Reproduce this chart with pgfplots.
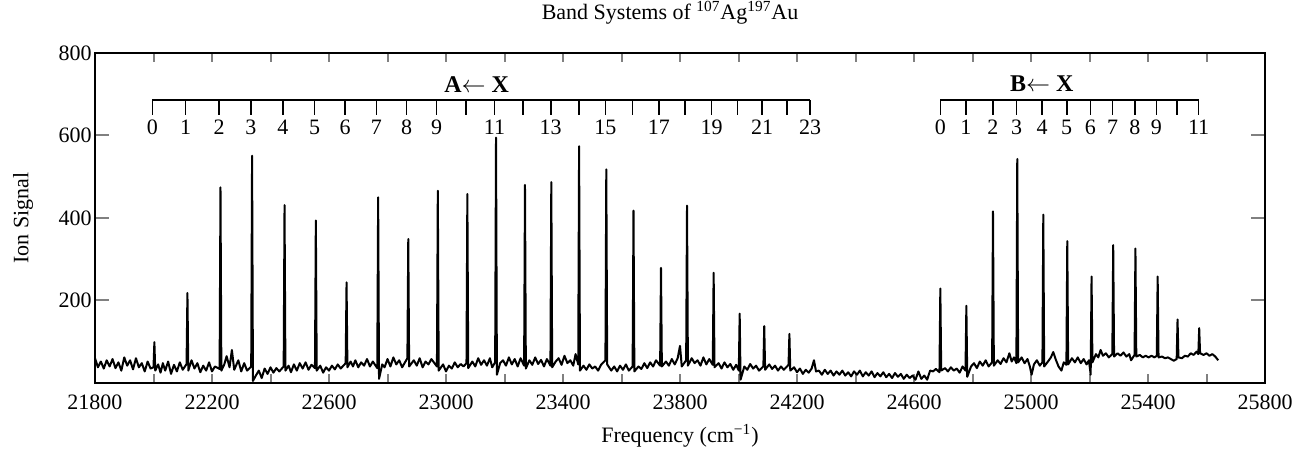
\documentclass[border=0pt]{standalone}
\usepackage{pgfplots}
\pgfplotsset{compat=1.18}
\usepackage{fontspec}
\setmainfont{Liberation Serif}
\newcommand\combfont{\fontsize{11}{13}\selectfont}

\begin{document}
\begin{tikzpicture}
\begin{axis}[
    scale only axis,
    width=585pt, height=165pt,
    xmin=21800, xmax=25800,
    ymin=0, ymax=800,
    clip=false,
    axis line style={line width=1pt},
    tick align=inside,
    scaled x ticks=false,
    xtick={21800,22200,...,25800},
    minor xtick={22000,22400,...,25600},
    ytick={200,400,600,800},
    xtick style={line width=1pt, /pgfplots/major tick length=4.5pt, /pgfplots/minor tick length=4.5pt},
    ytick style={line width=1pt, /pgfplots/major tick length=7pt},
    tick label style={font=\fontsize{11}{13}\selectfont, /pgf/number format/assume math mode=true},
    xticklabel style={/pgf/number format/fixed, /pgf/number format/1000 sep={}, anchor=center, yshift=-9.5pt},
    yticklabel style={anchor=east, inner xsep=1.5pt},
    label style={font=\fontsize{11}{13}\selectfont},
    xlabel={Frequency (cm\textsuperscript{−1})},
    xlabel style={at={(axis description cs:0.5,-0.16)}, anchor=center},
    ylabel={Ion Signal},
    ylabel style={at={(axis description cs:-0.0615,0.5)}, anchor=center},
]
\coordinate (ll) at (rel axis cs:0,0);
\coordinate (ur) at (rel axis cs:1,1);

% spectrum: noisy baseline with the vibronic band heads
\addplot[black, line width=1pt, line join=round] coordinates {
(21800,60)(21810,38)(21820,52)(21830,35)(21840,55)(21850,40)(21860,58)(21870,36)(21880,50)(21890,30)
(21900,62)(21910,42)(21920,55)(21930,33)(21940,60)(21950,38)(21960,48)(21970,28)(21980,52)(21990,35)
(22000,38)(22003,99)(22006,30)(22016,45)(22024,25)(22032,48)(22040,30)(22050,52)(22060,22)(22070,44)
(22080,28)(22090,50)(22100,32)(22113,46)(22116,218)(22119,30)(22130,55)(22140,35)(22150,48)(22160,26)
(22170,42)(22180,30)(22190,50)(22200,28)(22210,40)(22226,34)(22229,474)(22232,30)(22242,45)(22250,65)
(22260,38)(22268,80)(22276,32)(22290,55)(22300,28)(22310,48)(22320,30)(22334,40)(22337,551)(22340,5)
(22350,18)(22360,30)(22370,12)(22380,35)(22390,22)(22400,38)(22410,25)(22420,36)(22430,28)(22445,40)
(22448,431)(22451,30)(22462,42)(22470,26)(22480,45)(22490,30)(22500,48)(22510,35)(22520,50)(22530,32)
(22540,44)(22552,36)(22555,394)(22558,30)(22570,42)(22580,25)(22590,38)(22600,30)(22610,42)(22620,33)
(22630,45)(22640,35)(22657,48)(22660,244)(22663,38)(22674,52)(22682,40)(22690,55)(22700,38)(22710,50)
(22720,42)(22730,58)(22740,40)(22750,52)(22765,36)(22768,450)(22771,10)(22782,45)(22790,38)(22800,58)
(22810,40)(22820,62)(22830,45)(22840,55)(22850,38)(22868,60)(22871,349)(22874,40)(22890,55)(22900,42)
(22910,60)(22920,38)(22930,52)(22940,45)(22950,58)(22969,40)(22972,466)(22975,30)(22990,45)(23000,28)
(23010,42)(23020,35)(23030,50)(23040,38)(23050,46)(23060,40)(23070,48)(23073,458)(23076,36)(23090,52)
(23100,40)(23110,60)(23120,44)(23130,55)(23140,42)(23150,60)(23158,38)(23168,50)(23171,595)(23174,20)
(23185,48)(23195,55)(23205,42)(23215,62)(23225,45)(23235,58)(23245,40)(23255,60)(23267,42)(23270,480)
(23273,35)(23285,55)(23295,44)(23305,62)(23315,46)(23325,56)(23335,40)(23345,58)(23357,42)(23360,487)
(23363,38)(23375,52)(23385,60)(23395,44)(23405,66)(23415,48)(23425,55)(23435,42)(23443,70)(23452,45)
(23455,574)(23458,30)(23470,42)(23480,32)(23490,45)(23500,35)(23510,40)(23520,30)(23530,44)(23545,55)
(23548,518)(23551,45)(23565,30)(23575,40)(23585,28)(23595,42)(23605,32)(23615,45)(23625,30)(23638,40)
(23641,418)(23644,28)(23658,40)(23668,34)(23678,48)(23688,36)(23698,50)(23708,40)(23718,55)(23732,42)
(23735,279)(23738,40)(23752,52)(23762,42)(23772,58)(23782,45)(23792,60)(23800,90)(23806,40)(23821,55)
(23824,430)(23827,42)(23840,60)(23850,48)(23860,55)(23870,42)(23880,62)(23890,45)(23900,58)(23912,44)
(23915,267)(23918,38)(23932,48)(23942,35)(23952,50)(23962,38)(23972,46)(23982,32)(23992,44)(24001,30)
(24004,168)(24007,8)(24020,40)(24030,32)(24040,46)(24050,35)(24060,42)(24070,30)(24085,40)(24088,138)
(24091,32)(24105,45)(24115,34)(24125,42)(24135,30)(24145,40)(24155,32)(24171,44)(24174,119)(24177,30)
(24190,38)(24200,26)(24210,35)(24220,22)(24230,32)(24240,25)(24250,35)(24258,55)(24265,28)(24275,30)
(24285,20)(24295,32)(24305,22)(24315,30)(24325,18)(24335,28)(24345,20)(24355,30)(24365,18)(24375,26)
(24385,16)(24395,28)(24405,20)(24415,30)(24425,16)(24435,26)(24445,18)(24455,28)(24465,14)(24475,24)
(24485,16)(24495,26)(24505,14)(24515,22)(24525,12)(24535,24)(24545,15)(24555,22)(24565,10)(24575,20)
(24585,12)(24595,18)(24605,8)(24615,28)(24625,10)(24635,18)(24645,8)(24655,30)(24665,28)(24675,34)
(24687,26)(24690,229)(24693,30)(24706,36)(24716,28)(24726,38)(24736,30)(24746,35)(24756,25)(24766,40)
(24776,30)(24779,187)(24782,15)(24795,40)(24805,48)(24815,36)(24825,52)(24835,42)(24845,55)(24855,40)
(24867,50)(24870,416)(24873,42)(24886,55)(24896,46)(24906,60)(24916,50)(24926,72)(24934,52)(24942,62)
(24950,48)(24953,543)(24956,50)(24968,62)(24978,48)(24988,58)(24996,40)(25002,20)(25010,45)(25020,55)
(25030,42)(25039,50)(25042,408)(25045,40)(25058,52)(25068,62)(25076,75)(25084,58)(25094,40)(25104,30)
(25112,50)(25121,44)(25124,344)(25127,45)(25140,60)(25150,50)(25160,62)(25170,48)(25180,58)(25190,45)
(25198,55)(25204,20)(25207,258)(25210,50)(25222,70)(25230,62)(25238,80)(25246,66)(25256,72)(25266,62)
(25278,70)(25281,334)(25284,64)(25296,72)(25306,66)(25316,74)(25326,64)(25336,70)(25342,55)(25354,68)
(25357,326)(25360,64)(25372,68)(25382,62)(25392,66)(25402,62)(25412,66)(25422,62)(25430,66)(25433,258)
(25436,62)(25448,64)(25458,60)(25468,62)(25478,58)(25488,54)(25498,58)(25501,154)(25504,62)(25516,60)
(25526,66)(25536,64)(25546,72)(25556,68)(25566,76)(25572,70)(25575,133)(25578,72)(25590,68)(25600,72)
(25610,66)(25620,70)(25630,64)(25640,55)
};

% progression combs
\draw[line width=0.8pt] (axis cs:21996,686) -- (axis cs:24245,686);
\draw[line width=0.8pt] (axis cs:24690,686) -- (axis cs:25573,686);
\foreach \x/\l in {21996/0,22110/1,22224/2,22333/3,22442/4,22551/5,22655/6,22762/7,
    22865/8,22968/9,23068/{},23166/11,23264/{},23358/13,23455/{},23545/15,23637/{},
    23728/17,23817/{},23908/19,23996/{},24081/21,24166/{},24245/23,
    24690/0,24777/1,24870/2,24951/3,25038/4,25122/5,25203/6,25279/7,25355/8,
    25429/9,25499/{},25573/11} {
  \edef\temp{\noexpand\draw[line width=0.8pt] (axis cs:\x,686) -- (axis cs:\x,650);
    \noexpand\node[font=\noexpand\combfont] at (axis cs:\x,619) {\l};}
  \temp
}
\node[font=\fontsize{12}{14}\selectfont\bfseries] at (axis cs:23105,724) {A$\leftarrow$ X};
\node[font=\fontsize{12}{14}\selectfont\bfseries] at (axis cs:25037,726) {B$\leftarrow$ X};

\node[font=\fontsize{11}{13}\selectfont] at (rel axis cs:0.4915,1.1212)
    {Band Systems of \textsuperscript{107}Ag\textsuperscript{197}Au};
\end{axis}
\pgfresetboundingbox
\path ([xshift=-47.5pt,yshift=-35pt]ll) rectangle ([xshift=14pt,yshift=26.5pt]ur);
\end{tikzpicture}
\end{document}
